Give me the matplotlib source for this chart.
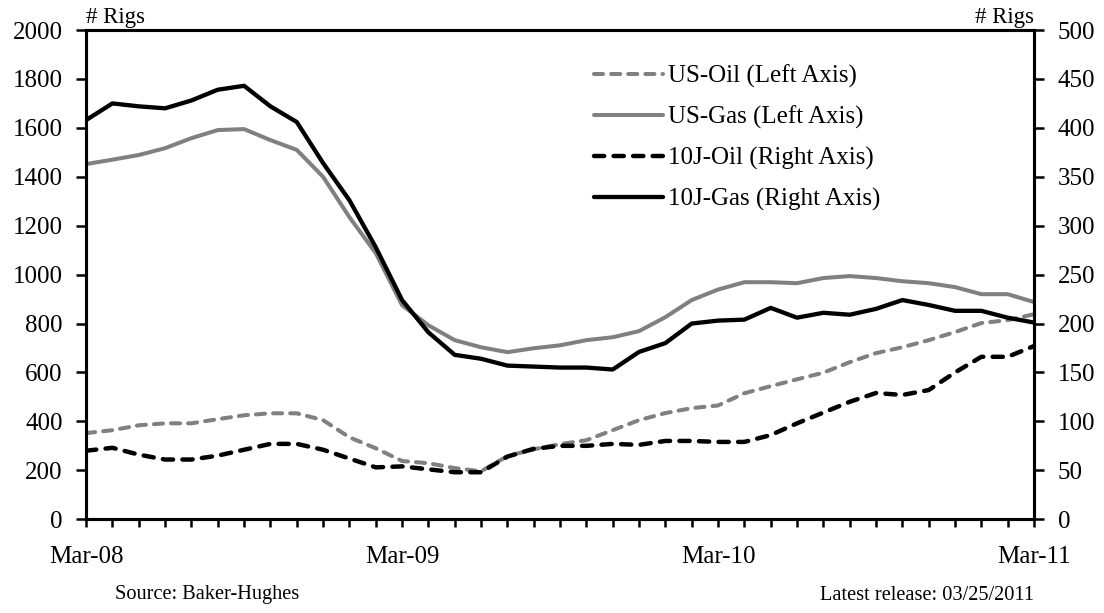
import matplotlib.pyplot as plt
import numpy as np

plt.rcParams['font.family'] = ['Liberation Serif', 'DejaVu Serif']

# monthly data, Mar-08 .. Mar-11
months = np.arange(37)
tick_pos = [0, 12, 24, 36]
tick_labels = ["Mar-08", "Mar-09", "Mar-10", "Mar-11"]

us_oil = [352, 364, 384, 392, 392, 409, 425, 433, 433, 405, 335, 290, 238,
          229, 209, 196, 258, 286, 307, 323, 364, 405, 434, 454, 465, 515,
          544, 572, 599, 642, 679, 703, 732, 765, 802, 814, 838]
us_gas = [1452, 1470, 1489, 1517, 1558, 1591, 1595, 1550, 1510, 1400, 1235,
          1088, 875, 793, 732, 703, 683, 699, 711, 732, 744, 769, 826, 896,
          939, 969, 969, 965, 986, 994, 986, 973, 965, 949, 920, 920, 888]
j_oil = [70, 73, 66, 61, 61, 65, 71, 77, 77, 71, 62, 53, 54, 51, 48, 48, 64,
         72, 75, 75, 77, 76, 80, 80, 79, 79, 86, 98, 109, 120, 129, 127, 132,
         150, 166, 166, 177]
j_gas = [408, 425, 422, 420, 428, 439, 443, 422, 406, 364, 326, 278, 224,
         191, 168, 164, 157, 156, 155, 155, 153, 171, 180, 200, 203, 204, 216,
         206, 211, 209, 215, 224, 219, 213, 213, 206, 201]

gray = '#808080'
fs = 18

fig = plt.figure(figsize=(11.04, 6.13), dpi=100)
ax = fig.add_axes([0.078, 0.153, 0.8586, 0.798])
ax2 = ax.twinx()

l1, = ax.plot(months, us_oil, color=gray, lw=2.9, ls=(0, (2.25, 2)),
              dash_capstyle='round', label='US-Oil (Left Axis)')
l2, = ax.plot(months, us_gas, color=gray, lw=2.9, solid_capstyle='round',
              label='US-Gas (Left Axis)')
l3, = ax2.plot(months, j_oil, color='black', lw=3.2, ls=(0, (2.3, 2.1)),
               dash_capstyle='round', label='10J-Oil (Right Axis)')
l4, = ax2.plot(months, j_gas, color='black', lw=3.1, solid_capstyle='round',
               label='10J-Gas (Right Axis)')

ax.set_xlim(0, 36)
ax.set_ylim(0, 2000)
ax2.set_ylim(0, 500)
ax.set_yticks(np.arange(0, 2001, 200))
ax2.set_yticks(np.arange(0, 501, 50))
ax.set_xticks(tick_pos)
ax.set_xticklabels(tick_labels)
ax.set_xticks(months, minor=True)

for a in (ax, ax2):
    for s in a.spines.values():
        s.set_linewidth(2.2)
ax.tick_params(axis='y', direction='out', length=7, width=1.8, labelsize=fs, pad=10)
ax2.tick_params(axis='y', direction='out', length=7, width=1.8, labelsize=fs, pad=10)
ax.tick_params(axis='x', which='both', direction='out', length=6, width=1.8,
               labelsize=fs, pad=13)

ax.text(0.0, 1.005, '# Rigs', transform=ax.transAxes, fontsize=16.5,
        ha='left', va='bottom')
ax.text(1.0, 1.005, '# Rigs', transform=ax.transAxes, fontsize=16.5,
        ha='right', va='bottom')

ax2.legend(handles=[l1, l2, l3, l4], loc='upper left', bbox_to_anchor=(0.5116, 0.976),
           frameon=False, fontsize=fs, handlelength=2.76, handletextpad=0.2,
           labelspacing=0.72)

fig.text(115 / 1104, 1 - 595 / 613, 'Source: Baker-Hughes', fontsize=14.7,
         ha='left', va='center')
fig.text(1034 / 1104, 1 - 595 / 613, 'Latest release: 03/25/2011', fontsize=14.7,
         ha='right', va='center')

fig.savefig('out.png', dpi=100)
